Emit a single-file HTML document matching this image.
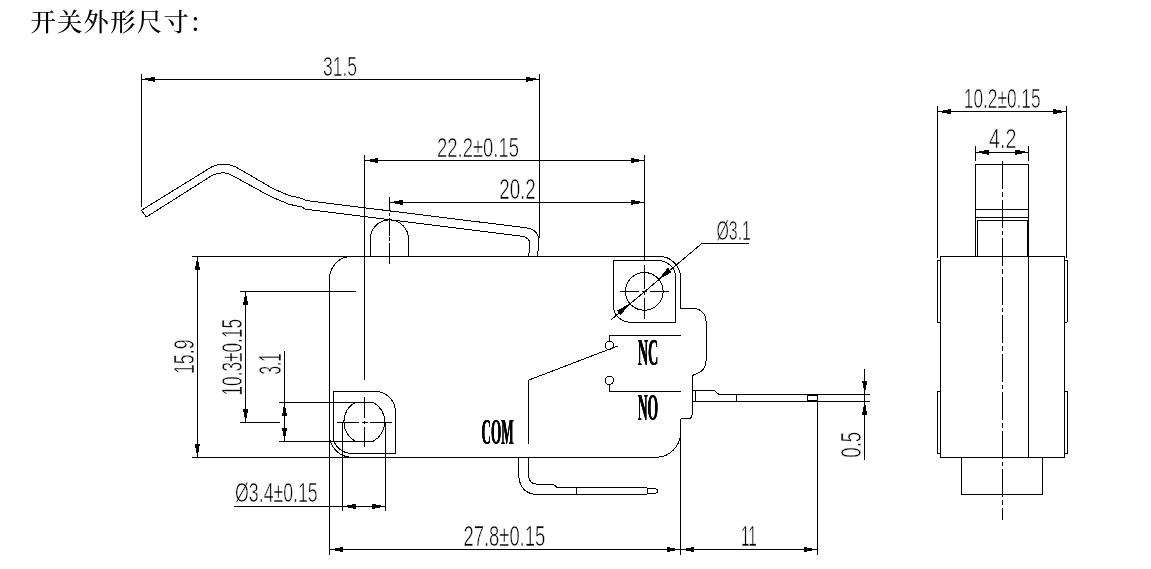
<!DOCTYPE html>
<html lang="zh-CN">
<head>
<meta charset="utf-8">
<title>开关外形尺寸</title>
<style>
html,body{margin:0;padding:0;background:#fff;}
body{width:1151px;height:569px;overflow:hidden;position:relative;font-family:"Liberation Sans","Noto Sans CJK SC",sans-serif;}
svg{position:absolute;left:0;top:0;}
.g line,.g path,.g circle{fill:none;stroke:#000;stroke-width:1.0;stroke-linecap:butt;stroke-linejoin:round;shape-rendering:crispEdges;}
.a polygon{fill:#000;stroke:none;shape-rendering:crispEdges;}
text{fill:#000;}
.t{opacity:0.999;}
.h{font-family:"Liberation Serif","Noto Serif CJK SC",serif;font-weight:500;font-size:25.3px;letter-spacing:1.3px;}
.d{font-family:"Liberation Sans",sans-serif;stroke:#fff;stroke-width:0.6px;}
.b{font-family:"Liberation Serif",serif;font-weight:700;filter:url(#bx);}
</style>
</head>
<body>
<svg width="1151" height="569" viewBox="0 0 1151 569">
<defs><filter id="bx" x="-10%" y="-10%" width="120%" height="120%"><feOffset in="SourceGraphic" dx="0.45" dy="0" result="o1"/><feOffset in="SourceGraphic" dx="-0.45" dy="0" result="o2"/><feMerge><feMergeNode in="o1"/><feMergeNode in="o2"/><feMergeNode in="SourceGraphic"/></feMerge></filter></defs>
<g class="g">
<line x1="192" y1="256.3" x2="659" y2="256.3"/>
<line x1="192" y1="457.3" x2="656.4" y2="457.3"/>
<line x1="329.5" y1="278.8" x2="329.5" y2="554.5"/>
<path d="M329.5,278.8 A22.5,22.5 0 0 1 352,256.3"/>
<path d="M329.5,434.8 A22.5,22.5 0 0 0 352,457.3"/>
<path d="M659,256.3 A21.3,21.3 0 0 1 680.4,277.6 L680.4,308.3 L693.5,308.3 A13,13 0 0 1 706,321.3 L706,360.6 Q706,371.5 694.9,374.3 Q692.1,375 692.1,378 L692.1,414.3 Q692.1,418.3 688.5,418.7 L680.6,418.9"/>
<line x1="680.6" y1="418.9" x2="680.6" y2="554.5"/>
<path d="M680.6,432.5 A24.5,24.8 0 0 1 656.4,457.3"/>
<path d="M141.4,210.3 L212,166.7 Q223.7,161.6 235.4,166.7 L273.7,189 L288.5,195.3 L302.7,198.7 L306.4,200.6 L525.5,227.7 C533.5,228.7 538.8,233 538.8,241.5 L537.6,256.3"/>
<path d="M146.4,217 L212,175.5 Q223.7,170.4 231,174.8 L270,196.2 L289,204.3 L301.7,206.9 L305.4,209.2 L521.5,236.2 C526.8,236.9 530,239.5 530,244.5 L528.6,256.3"/>
<line x1="141.4" y1="210.3" x2="146.4" y2="217"/>
<path d="M370.3,256.3 L370.3,239 A19.1,19.1 0 0 1 408.5,239 L408.5,256.3"/>
<line x1="389.3" y1="197" x2="389.3" y2="263.6" stroke-dasharray="14 1.5 3.5 1.5 18.3 1.4 3.5 2.1 21"/>
<path d="M333.2,436 L333.2,391.6 L375.5,391.6 A19.8,19.8 0 0 1 395.3,411.4 L395.3,453.4 L352,453.4 A18.8,17.4 0 0 1 333.2,436"/>
<path d="M355.6,402.3 L373,402.3 A20.6,21.6 0 0 1 373,441.3 L355.6,441.3 A20.6,21.6 0 0 1 355.6,402.3 Z"/>
<line x1="337.1" y1="422.5" x2="392" y2="422.5" stroke-dasharray="21.7 3.1 5.6 2.3 22.2"/>
<line x1="364.5" y1="397.1" x2="364.5" y2="446.5" stroke-dasharray="20.9 2.8 3.5 2.4 19.8"/>
<path d="M613.4,306 L613.4,260.3 L657,260.3 A18.7,17 0 0 1 675.7,277.3 L675.7,322.2 L630.5,322.2 A17.1,16.2 0 0 1 613.4,306"/>
<circle cx="644.3" cy="291.4" r="18.85"/>
<line x1="620.2" y1="291.4" x2="668.5" y2="291.4" stroke-dasharray="18.8 3.2 4.5 2.9 19"/>
<line x1="644.3" y1="265.4" x2="644.3" y2="319.3" stroke-dasharray="23.6 2.5 3.5 2.5 24"/>
<line x1="528.5" y1="380.2" x2="528.5" y2="444.2"/>
<line x1="528.5" y1="380.2" x2="618.2" y2="345.8"/>
<circle cx="609.3" cy="345.3" r="4.2"/>
<path d="M609.3,341.1 L609.3,335.5 L680.6,335.5"/>
<circle cx="609.3" cy="380.3" r="4.2"/>
<path d="M609.3,384.5 L609.3,391.5 L680.6,391.5"/>
<path d="M518.5,457.3 L518.5,473.5 Q519.5,494.4 537.5,494.4 L647,494.4"/>
<path d="M528.5,457.3 L528.5,475 Q529,484.1 536.8,484.1 L553.2,484.1 L557.1,487.5 L647,487.5"/>
<line x1="576.5" y1="487.5" x2="576.5" y2="494.4"/>
<line x1="647" y1="487.5" x2="647" y2="494.4" stroke-width="1.6"/>
<path d="M647,488.4 L654,488.4 L657.6,489.6 L657.6,492.4 L654,493.5 L647,493.5"/>
<path d="M692.1,390.7 L714.3,390.7 L718.9,394.3 L870.3,394.3"/>
<line x1="692.1" y1="401.25" x2="870.3" y2="401.25"/>
<line x1="695.2" y1="390.7" x2="695.2" y2="401.25"/>
<line x1="736.2" y1="394.3" x2="736.2" y2="401.25"/>
<line x1="807.4" y1="394.3" x2="807.4" y2="401.25"/>
<path d="M807.4,395.4 L816,395.4 Q817.8,395.4 817.8,397 L817.8,398.6 Q817.8,400.2 816,400.2 L807.4,400.2"/>
<line x1="817.6" y1="397.5" x2="817.6" y2="554.5"/>
<line x1="141.3" y1="73.5" x2="141.3" y2="207"/>
<line x1="539.7" y1="73.5" x2="539.7" y2="237.5"/>
<line x1="141.3" y1="79.3" x2="539.7" y2="79.3"/>
<line x1="364.5" y1="155" x2="364.5" y2="380.3"/>
<line x1="644.3" y1="154.5" x2="644.3" y2="261"/>
<line x1="364.5" y1="160.5" x2="644.3" y2="160.5"/>
<line x1="389.3" y1="202.4" x2="644.3" y2="202.4"/>
<line x1="197.4" y1="256.3" x2="197.4" y2="457.3"/>
<line x1="240" y1="291.5" x2="356" y2="291.5"/>
<line x1="240" y1="422.5" x2="280" y2="422.5"/>
<line x1="245.6" y1="291.5" x2="245.6" y2="422.5"/>
<line x1="278.8" y1="402.3" x2="356" y2="402.3"/>
<line x1="278.8" y1="441.3" x2="356" y2="441.3"/>
<line x1="284.5" y1="351" x2="284.5" y2="441.3"/>
<line x1="342.4" y1="422.5" x2="342.4" y2="511.4"/>
<line x1="385.6" y1="422.5" x2="385.6" y2="511.4"/>
<line x1="233.6" y1="506.4" x2="385.6" y2="506.4"/>
<line x1="329.5" y1="549.5" x2="817.6" y2="549.5"/>
<line x1="864.7" y1="369" x2="864.7" y2="459.7"/>
<path d="M749.4,243 L702.4,243 L611,319.9"/>
<line x1="937.4" y1="106" x2="937.4" y2="257.5"/>
<line x1="1066.5" y1="106" x2="1066.5" y2="257.5"/>
<line x1="937.4" y1="111.6" x2="1066.5" y2="111.6"/>
<line x1="975.6" y1="146" x2="975.6" y2="161.4"/>
<line x1="1028.5" y1="146" x2="1028.5" y2="161.4"/>
<line x1="975.6" y1="152.2" x2="1028.5" y2="152.2"/>
<path d="M975.6,256.3 L975.6,164.4 L1028.5,164.4 L1028.5,256.3"/>
<line x1="975.6" y1="209" x2="1028.5" y2="209"/>
<line x1="975.6" y1="217.3" x2="1028.5" y2="217.3"/>
<path d="M977.7,256.3 L977.7,220.6 L1027.2,220.6 L1027.2,256.3"/>
<path d="M940.5,256.3 L1064.6,256.3 L1064.6,457.3 L940.5,457.3 Z"/>
<path d="M940.5,260.4 L937.6,260.4 L937.6,322.3 L940.5,322.3"/>
<path d="M1064.6,260.4 L1067,260.4 L1067,322.3 L1064.6,322.3"/>
<path d="M940.5,391.4 L937.6,391.4 L937.6,453.6 L940.5,453.6"/>
<path d="M1064.6,391.4 L1067,391.4 L1067,453.6 L1064.6,453.6"/>
<line x1="1028.4" y1="256.3" x2="1028.4" y2="457.3"/>
<path d="M961.6,457.3 L961.6,494.4 L1042.5,494.4 L1042.5,457.3"/>
<line x1="1002.4" y1="161" x2="1002.4" y2="519.6" stroke-dasharray="28 3 4.5 3"/>
</g>
<g class="a">
<polygon points="141.30,79.30 154.70,81.90 154.70,76.70"/>
<polygon points="539.70,79.30 526.30,76.70 526.30,81.90"/>
<polygon points="364.50,160.50 377.90,163.10 377.90,157.90"/>
<polygon points="644.30,160.50 630.90,157.90 630.90,163.10"/>
<polygon points="389.30,202.40 402.70,205.00 402.70,199.80"/>
<polygon points="644.30,202.40 630.90,199.80 630.90,205.00"/>
<polygon points="197.40,256.30 194.80,269.70 200.00,269.70"/>
<polygon points="197.40,457.30 200.00,443.90 194.80,443.90"/>
<polygon points="245.60,291.50 243.00,304.90 248.20,304.90"/>
<polygon points="245.60,422.50 248.20,409.10 243.00,409.10"/>
<polygon points="284.50,402.30 281.90,415.70 287.10,415.70"/>
<polygon points="284.50,441.30 287.10,427.90 281.90,427.90"/>
<polygon points="342.40,506.40 355.80,509.00 355.80,503.80"/>
<polygon points="385.60,506.40 372.20,503.80 372.20,509.00"/>
<polygon points="329.50,549.50 342.90,552.10 342.90,546.90"/>
<polygon points="680.60,549.50 667.20,546.90 667.20,552.10"/>
<polygon points="680.60,549.50 694.00,552.10 694.00,546.90"/>
<polygon points="817.60,549.50 804.20,546.90 804.20,552.10"/>
<polygon points="864.70,394.30 867.30,380.90 862.10,380.90"/>
<polygon points="864.70,401.25 862.10,414.65 867.30,414.65"/>
<polygon points="658.72,279.26 671.75,272.22 667.89,267.63"/>
<polygon points="629.88,303.54 616.85,310.58 620.71,315.17"/>
<polygon points="937.40,111.60 950.80,114.20 950.80,109.00"/>
<polygon points="1066.50,111.60 1053.10,109.00 1053.10,114.20"/>
<polygon points="975.60,152.20 989.00,154.80 989.00,149.60"/>
<polygon points="1028.50,152.20 1015.10,149.60 1015.10,154.80"/>
</g>
<g class="t">
<text class="h" x="30.4" y="31.1">开关外形尺寸<tspan dx="1.5" dy="-0.6" font-size="28.5">:</tspan></text>
<text class="d" x="323.00" y="75.60" font-size="28.20" textLength="34.13" lengthAdjust="spacingAndGlyphs">31.5</text>
<text class="d" x="437.00" y="157.30" font-size="27.89" textLength="81.96" lengthAdjust="spacingAndGlyphs">22.2±0.15</text>
<text class="d" x="499.20" y="198.90" font-size="28.94" textLength="36.56" lengthAdjust="spacingAndGlyphs">20.2</text>
<text class="d" x="716.50" y="239.50" font-size="27.37" textLength="34.47" lengthAdjust="spacingAndGlyphs">Ø3.1</text>
<text class="d" x="194.10" y="374.00" font-size="29.40" textLength="34.51" lengthAdjust="spacingAndGlyphs" transform="rotate(-90 194.10 374.00)">15.9</text>
<text class="d" x="242.40" y="395.50" font-size="29.28" textLength="76.58" lengthAdjust="spacingAndGlyphs" transform="rotate(-90 242.40 395.50)">10.3±0.15</text>
<text class="d" x="281.10" y="374.60" font-size="30.72" textLength="21.29" lengthAdjust="spacingAndGlyphs" transform="rotate(-90 281.10 374.60)">3.1</text>
<text class="d" x="235.10" y="502.40" font-size="27.37" textLength="82.56" lengthAdjust="spacingAndGlyphs">Ø3.4±0.15</text>
<text class="d" x="463.50" y="546.30" font-size="28.94" textLength="81.69" lengthAdjust="spacingAndGlyphs">27.8±0.15</text>
<text class="d" x="740.90" y="545.60" font-size="28.94" textLength="15.86" lengthAdjust="spacingAndGlyphs">11</text>
<text class="d" x="861.40" y="457.70" font-size="29.10" textLength="25.90" lengthAdjust="spacingAndGlyphs" transform="rotate(-90 861.40 457.70)">0.5</text>
<text class="d" x="963.80" y="107.60" font-size="27.03" textLength="76.82" lengthAdjust="spacingAndGlyphs">10.2±0.15</text>
<text class="d" x="989.10" y="148.20" font-size="27.21" textLength="27.48" lengthAdjust="spacingAndGlyphs">4.2</text>
<text class="b" x="481.50" y="443.50" font-size="36.64" textLength="32.15" lengthAdjust="spacingAndGlyphs">COM</text>
<text class="b" x="637.70" y="365.00" font-size="38.17" textLength="20.54" lengthAdjust="spacingAndGlyphs">NC</text>
<text class="b" x="637.70" y="420.20" font-size="37.11" textLength="20.54" lengthAdjust="spacingAndGlyphs">NO</text>
</g>
</svg>
</body>
</html>
